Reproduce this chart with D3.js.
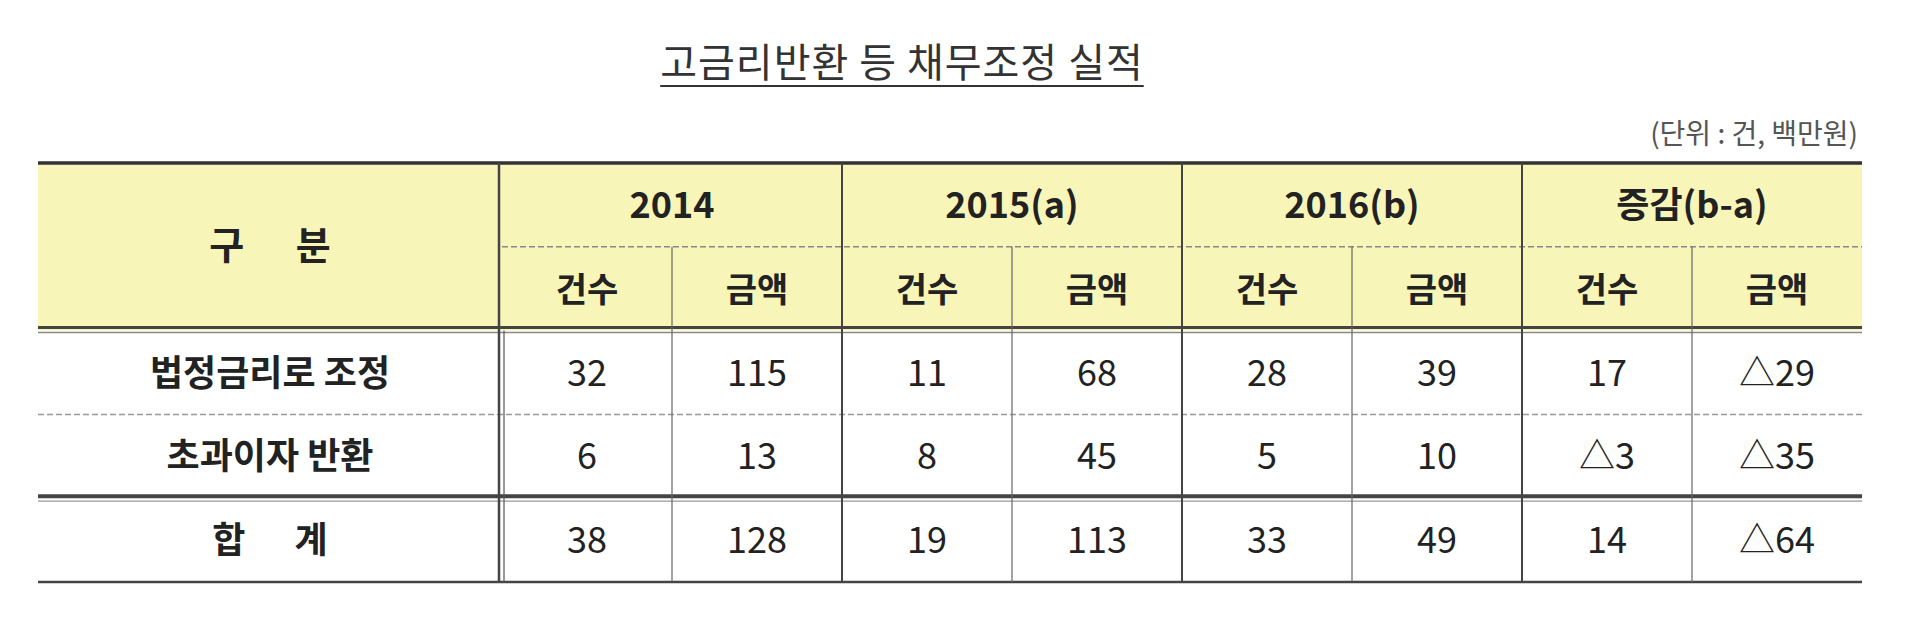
<!DOCTYPE html>
<html><head><meta charset="utf-8">
<script src="https://cdn.jsdelivr.net/npm/d3@7"></script>
<style>body{margin:0;background:#fff}svg{display:block}text{font-family:"Noto Sans CJK KR","Noto Sans",sans-serif}</style>
</head><body><svg id="c" width="1920" height="638"></svg>
<script>
const title = "고금리반환 등 채무조정 실적";
const unitNote = "(단위 : 건, 백만원)";
const headerLabel = "구      분";
const years = ["2014", "2015(a)", "2016(b)", "증감(b-a)"];
const subHeaders = ["건수", "금액"];
const rowLabels = ["법정금리로 조정", "초과이자 반환", "합      계"];
const v2014 = [[32,115],[6,13],[38,128]];
const v2015 = [[11,68],[8,45],[19,113]];
const v2016 = [[28,39],[5,10],[33,49]];
const vDiff = [[17,-29],[-3,-35],[14,-64]];

(function(){
const svg = d3.select("#c");
const L=38, R=1862, labelW=464;
const x = d3.scaleBand().domain(d3.range(8)).range([L+labelW, R]);
const yRows = d3.scaleBand().domain(["h1","h2","r0","r1","r2"]).range([163,582]);
const fmt = v => v<0 ? "△"+(-v) : String(v);
const fill = "#f8f5b9", ink="#222";

const t = svg.append("text").attr("x",902).attr("y",77).attr("text-anchor","middle")
 .attr("font-size",40).attr("fill","#333").attr("letter-spacing",1).text(title);
const bb = t.node().getBBox();
svg.append("line").attr("x1",bb.x).attr("x2",bb.x+bb.width).attr("y1",86).attr("y2",86).attr("stroke","#333").attr("stroke-width",2);
svg.append("text").attr("x",R-4).attr("y",144).attr("text-anchor","end").attr("font-size",28).attr("fill","#555").text(unitNote);

svg.append("rect").attr("x",L).attr("y",yRows("h1")).attr("width",R-L).attr("height",yRows.bandwidth()*2).attr("fill",fill);

const rowsData = [v2014,v2015,v2016,vDiff];
svg.append("text").attr("x",L+labelW/2).attr("y",yRows("h2")+12).attr("text-anchor","middle")
 .attr("font-size",38).attr("font-weight","bold").attr("fill",ink).attr("xml:space","preserve").style("white-space","pre").text(headerLabel);
years.forEach((yr,i)=>{
  svg.append("text").attr("x",x(i*2)+x.bandwidth()).attr("y",yRows("h1")+yRows.bandwidth()/2+13)
   .attr("text-anchor","middle").attr("font-size",36).attr("font-weight","bold").attr("fill",ink).text(yr);
  subHeaders.forEach((s,j)=>{
    svg.append("text").attr("x",x(i*2+j)+x.bandwidth()/2).attr("y",yRows("h2")+yRows.bandwidth()/2+13)
     .attr("text-anchor","middle").attr("font-size",34).attr("font-weight","bold").attr("fill",ink).text(s);
  });
});
rowLabels.forEach((lab,r)=>{
  const yc = yRows("r"+r)+yRows.bandwidth()/2+13;
  svg.append("text").attr("x",L+labelW/2).attr("y",yc).attr("text-anchor","middle")
   .attr("font-size",36).attr("font-weight","bold").attr("fill",ink).style("white-space","pre").text(lab);
  rowsData.forEach((arr,i)=>arr[r].forEach((v,j)=>{
    svg.append("text").attr("x",x(i*2+j)+x.bandwidth()/2).attr("y",yc).attr("text-anchor","middle")
     .attr("font-size",36).attr("fill",ink).text(fmt(v));
  }));
});

const line=(x1,y1,x2,y2,w,c,dash)=>svg.append("line").attr("x1",x1).attr("y1",y1).attr("x2",x2).attr("y2",y2)
  .attr("stroke",c||"#333").attr("stroke-width",w).attr("stroke-dasharray",dash||null);
const yTop=yRows("h1"), yBot=yRows.range()[1];
line(L,yTop,R,yTop,3.5);
line(x(0),yRows("h2"),R,yRows("h2"),1.5,"#888","6,3");
line(L,yRows("r0")-3,R,yRows("r0")-3,3,"#444");
line(L,yRows("r0")+2,R,yRows("r0")+2,1.5,"#888");
line(L,yRows("r1"),R,yRows("r1"),1.5,"#999","6,3");
line(L,yRows("r2")-2,R,yRows("r2")-2,4,"#444");
line(L,yRows("r2")+3,R,yRows("r2")+3,1.2,"#999");
line(L,yBot,R,yBot,2.5,"#444");
line(x(0)-3,yTop,x(0)-3,yBot,2.5,"#444");
line(x(0)+2,yRows("r0"),x(0)+2,yBot,1.2,"#555");
d3.range(1,8).forEach(i=>{
  const y1 = i%2===0 ? yTop : yRows("h2");
  line(x(i),y1,x(i),yBot,i%2===0?2:1.2,i%2===0?"#444":"#666");
});
})();
</script></body></html>
